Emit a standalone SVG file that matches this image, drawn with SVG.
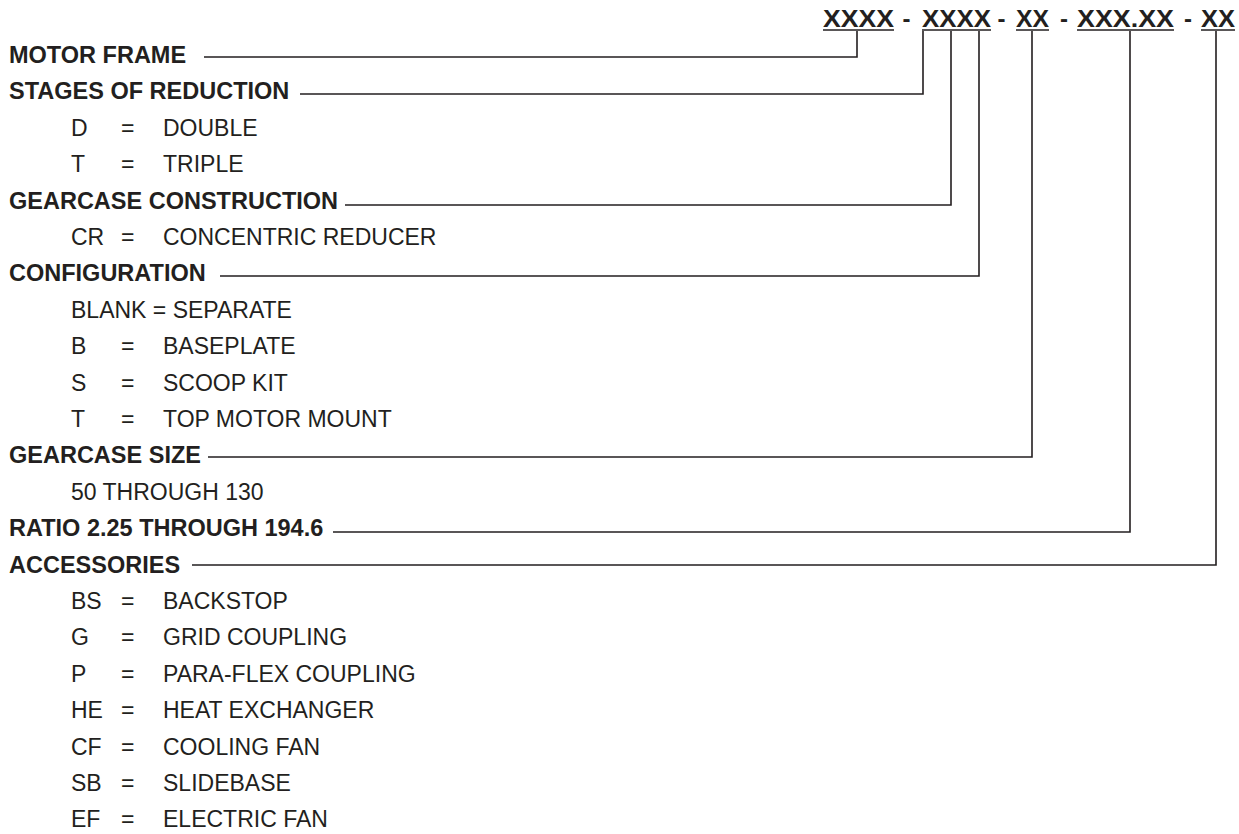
<svg xmlns="http://www.w3.org/2000/svg" width="1239" height="834" viewBox="0 0 1239 834">
<style>
text{font-family:"Liberation Sans",Arial,sans-serif;fill:#231f20}
.h{font-weight:bold;font-size:23.5px}
.k{font-weight:bold;font-size:24px}
.t{font-size:23px}
.c{fill:none;stroke:#231f20;stroke-width:1.6}
.u{stroke:#231f20;stroke-width:1.6}
</style>
<rect width="1239" height="834" fill="#fff"/>
<g id="code">
<text class="k" x="823" y="27" textLength="71" lengthAdjust="spacingAndGlyphs">XXXX</text>
<text class="k" x="902.5" y="27">-</text>
<text class="k" x="922" y="27" textLength="69" lengthAdjust="spacingAndGlyphs">XXXX</text>
<text class="k" x="997.5" y="27">-</text>
<text class="k" x="1016" y="27" textLength="33" lengthAdjust="spacingAndGlyphs">XX</text>
<text class="k" x="1060" y="27">-</text>
<text class="k" x="1077" y="27" textLength="97" lengthAdjust="spacingAndGlyphs">XXX.XX</text>
<text class="k" x="1184" y="27">-</text>
<text class="k" x="1201" y="27" textLength="34" lengthAdjust="spacingAndGlyphs">XX</text>
<line class="u" x1="823" y1="30" x2="894" y2="30"/>
<line class="u" x1="922" y1="30" x2="991" y2="30"/>
<line class="u" x1="1016" y1="30" x2="1049" y2="30"/>
<line class="u" x1="1077" y1="30" x2="1174" y2="30"/>
<line class="u" x1="1201" y1="30" x2="1235" y2="30"/>
</g>
<g id="connectors">
<path class="c" d="M204,57 H857 V31"/>
<path class="c" d="M300,94 H923 V31"/>
<path class="c" d="M345,205 H951 V31"/>
<path class="c" d="M220,276 H979 V31"/>
<path class="c" d="M208,457 H1032 V31"/>
<path class="c" d="M333,532 H1130 V31"/>
<path class="c" d="M192,565 H1216 V31"/>
</g>
<g id="motor-frame"><text class="h" x="9" y="63">MOTOR FRAME</text></g>
<g id="stages">
<text class="h" x="9" y="99.4">STAGES OF REDUCTION</text>
<text class="t" x="71" y="135.8">D</text><text class="t" x="121" y="135.8">=</text><text class="t" x="163" y="135.8">DOUBLE</text>
<text class="t" x="71" y="172.2">T</text><text class="t" x="121" y="172.2">=</text><text class="t" x="163" y="172.2">TRIPLE</text>
</g>
<g id="gearcase-construction">
<text class="h" x="9" y="208.6">GEARCASE CONSTRUCTION</text>
<text class="t" x="71" y="245">CR</text><text class="t" x="121" y="245">=</text><text class="t" x="163" y="245">CONCENTRIC REDUCER</text>
</g>
<g id="configuration">
<text class="h" x="9" y="281.4">CONFIGURATION</text>
<text class="t" x="71" y="317.8">BLANK = SEPARATE</text>
<text class="t" x="71" y="354.2">B</text><text class="t" x="121" y="354.2">=</text><text class="t" x="163" y="354.2">BASEPLATE</text>
<text class="t" x="71" y="390.6">S</text><text class="t" x="121" y="390.6">=</text><text class="t" x="163" y="390.6">SCOOP KIT</text>
<text class="t" x="71" y="427">T</text><text class="t" x="121" y="427">=</text><text class="t" x="163" y="427">TOP MOTOR MOUNT</text>
</g>
<g id="gearcase-size">
<text class="h" x="9" y="463.4">GEARCASE SIZE</text>
<text class="t" x="71" y="499.8">50 THROUGH 130</text>
</g>
<g id="ratio"><text class="h" x="9" y="536.2">RATIO 2.25 THROUGH 194.6</text></g>
<g id="accessories">
<text class="h" x="9" y="572.6">ACCESSORIES</text>
<text class="t" x="71" y="609">BS</text><text class="t" x="121" y="609">=</text><text class="t" x="163" y="609">BACKSTOP</text>
<text class="t" x="71" y="645.4">G</text><text class="t" x="121" y="645.4">=</text><text class="t" x="163" y="645.4">GRID COUPLING</text>
<text class="t" x="71" y="681.8">P</text><text class="t" x="121" y="681.8">=</text><text class="t" x="163" y="681.8">PARA-FLEX COUPLING</text>
<text class="t" x="71" y="718.2">HE</text><text class="t" x="121" y="718.2">=</text><text class="t" x="163" y="718.2">HEAT EXCHANGER</text>
<text class="t" x="71" y="754.6">CF</text><text class="t" x="121" y="754.6">=</text><text class="t" x="163" y="754.6">COOLING FAN</text>
<text class="t" x="71" y="791">SB</text><text class="t" x="121" y="791">=</text><text class="t" x="163" y="791">SLIDEBASE</text>
<text class="t" x="71" y="827.4">EF</text><text class="t" x="121" y="827.4">=</text><text class="t" x="163" y="827.4">ELECTRIC FAN</text>
</g>
</svg>
